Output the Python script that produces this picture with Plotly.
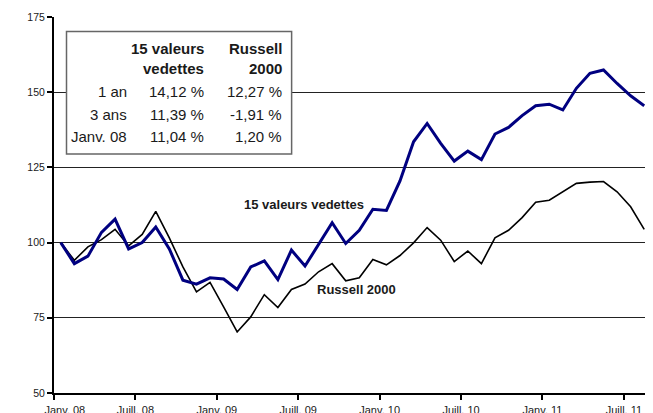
import plotly.graph_objects as go

# ---- data ----
vedettes = [100, 93.0, 95.5, 103.4, 107.8, 97.9, 100.0, 105.2, 97.9, 87.5,
            86.2, 88.3, 87.9, 84.4, 91.9, 93.9, 87.7, 97.5, 92.2, 99.4,
            106.6, 99.7, 104.1, 111.1, 110.7, 120.5, 133.5, 139.6, 133.0, 127.1,
            130.4, 127.6, 136.1, 138.3, 142.2, 145.5, 146.0, 144.1, 151.3, 156.3,
            157.4, 152.9, 148.8, 145.5]
russell = [100, 94.1, 98.6, 101.0, 104.4, 98.9, 102.7, 110.4, 101.6, 91.9,
           83.6, 86.8, 78.6, 70.3, 75.3, 82.7, 78.4, 84.4, 86.2, 90.3,
           93.0, 87.3, 88.3, 94.4, 92.6, 95.7, 99.9, 105.0, 100.8, 93.7,
           97.2, 93.0, 101.6, 104.1, 108.3, 113.4, 114.1, 116.9, 119.7, 120.1,
           120.3, 116.9, 111.9, 104.4]
months = list(range(len(vedettes)))  # Janv. 08 .. Août 11

x_tick_pos = [0.3, 5.5, 11.5, 17.5, 23.5, 29.5, 35.5, 41.5]
x_tick_text = ["Janv. 08", "Juill. 08", "Janv. 09", "Juill. 09",
               "Janv. 10", "Juill. 10", "Janv. 11", "Juill. 11"]
y_ticks = [50, 75, 100, 125, 150, 175]

table_header = [["15 valeurs", "vedettes"], ["Russell", "2000"]]
table_rows = ["1 an", "3 ans", "Janv. 08"]
table_vedettes = ["14,12 %", "11,39 %", "11,04 %"]
table_russell = ["12,27 %", "-1,91 %", "1,20 %"]

name_vedettes = "15 valeurs vedettes"
name_russell = "Russell 2000"

# ---- layout constants (page pixels; the page body has an 8px margin) ----
OFF = 8
PAGE_W, PAGE_H = 653, 413
W, H = PAGE_W - OFF, PAGE_H - OFF
PLOT_L, PLOT_R, PLOT_T, PLOT_B = 54, 650.7, 17, 392.7  # page coords
L = PLOT_L - OFF
T = PLOT_T - OFF
R = W - (PLOT_R - OFF)
B = H - (PLOT_B - OFF)
PW, PH = W - L - R, H - T - B


def px(xp):
    return (xp - PLOT_L) / PW


def py(yp):
    return (PLOT_B - yp) / PH


FONT = "Liberation Sans, Arial, sans-serif"
TXT = "#1a1a1a"

fig = go.Figure()
fig.add_trace(go.Scatter(x=months, y=russell, mode="lines", name=name_russell,
                         line=dict(color="#000000", width=1.6)))
fig.add_trace(go.Scatter(x=months, y=vedettes, mode="lines", name=name_vedettes,
                         line=dict(color="#000080", width=3)))

shapes = [
    # right border
    dict(type="line", xref="paper", yref="paper", x0=1, x1=1, y0=0, y1=1,
         line=dict(color="#555555", width=1)),
    # table box
    dict(type="rect", xref="paper", yref="paper",
         x0=px(66.5), x1=px(291.5), y0=py(154), y1=py(31.5),
         line=dict(color="#666666", width=1.5), fillcolor="white", layer="above"),
]

ann = []
col_x = [128.5, 205.5, 283.5]
hdr_y = [48.5, 68.5]
row_y = [91, 114, 136.5]
for j, col in enumerate(table_header):
    for k, t in enumerate(col):
        ann.append(dict(x=px(col_x[j + 1]), y=py(hdr_y[k]), xref="paper", yref="paper",
                        text=f"<b>{t}</b>", showarrow=False, xanchor="right", yanchor="middle",
                        font=dict(family=FONT, size=15, color=TXT)))
for i in range(len(table_rows)):
    for j, t in enumerate([table_rows[i], table_vedettes[i], table_russell[i]]):
        ann.append(dict(x=px(col_x[j]), y=py(row_y[i]), xref="paper", yref="paper",
                        text=t, showarrow=False, xanchor="right", yanchor="middle",
                        font=dict(family=FONT, size=15, color=TXT)))

ann.append(dict(x=px(303.5), y=py(204), xref="paper", yref="paper",
                text=f"<b>{name_vedettes}</b>", showarrow=False,
                font=dict(family=FONT, size=13, color=TXT)))
ann.append(dict(x=px(356), y=py(299), xref="paper", yref="paper",
                text=f"<b>{name_russell}</b>", showarrow=False,
                font=dict(family=FONT, size=13, color=TXT)))

fig.update_layout(
    width=W, height=H,
    margin=dict(l=L, r=R, t=T, b=B, pad=0, autoexpand=False),
    paper_bgcolor="white", plot_bgcolor="white",
    showlegend=False,
    shapes=shapes, annotations=ann,
    font=dict(family=FONT, color=TXT),
)
fig.update_xaxes(
    range=[-0.5, len(months) - 0.5], showgrid=False, zeroline=False,
    showline=True, linecolor="#000000", linewidth=2,
    tickmode="array", tickvals=x_tick_pos, ticktext=x_tick_text,
    ticks="", ticklabelstandoff=6,
    tickfont=dict(family=FONT, size=11, color=TXT),
    minor=dict(tickmode="array", tickvals=[-0.5 + 6 * k for k in range(8)],
               ticks="outside", ticklen=5, tickcolor="#000000", tickwidth=1.5, showgrid=False),
)
fig.update_yaxes(
    range=[50, 175], tickmode="array", tickvals=y_ticks,
    showgrid=True, gridcolor="#222222", gridwidth=1, zeroline=False,
    showline=True, linecolor="#000000", linewidth=2,
    ticks="outside", ticklen=5, tickcolor="#000000", tickwidth=1.5,
    tickfont=dict(family=FONT, size=10.5, color=TXT),
)

fig.write_html("out.html")
